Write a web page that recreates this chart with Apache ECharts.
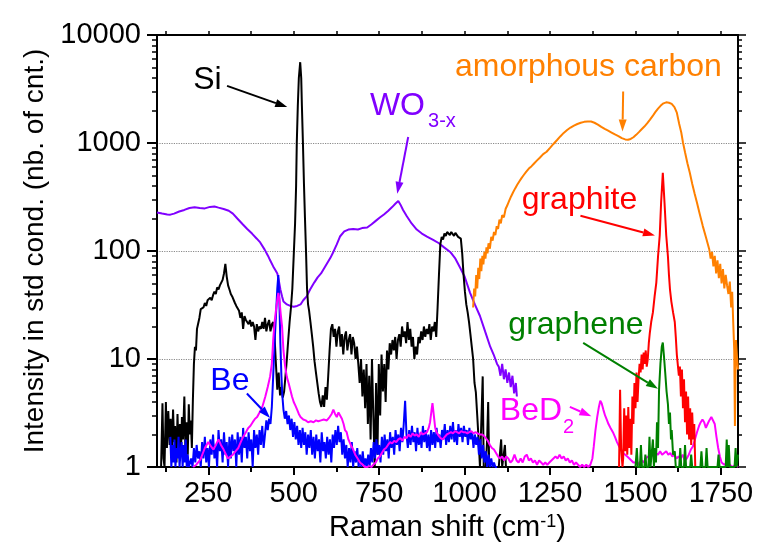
<!DOCTYPE html>
<html>
<head>
<meta charset="utf-8">
<script src="https://cdn.jsdelivr.net/npm/echarts@6/dist/echarts.min.js"></script>
<style>
html, body { margin: 0; padding: 0; background: #fff; }
#chart { width: 763px; height: 553px; }
</style>
</head>
<body>
<div id="chart"></div>
<script>
const FONT = '"Liberation Sans", Arial, sans-serif';

const BLACK = '#000000';
const PURPLE = '#8000ff';
const BLUE = '#0000ff';
const MAGENTA = '#ff00ff';
const ORANGE = '#ff8000';
const RED = '#ff0000';
const GREEN = '#008000';

// x tick positions (cm-1)
const xMajorTicks = [250, 500, 750, 1000, 1250, 1500, 1750];
const xMinorTicks = [125, 375, 625, 875, 1125, 1375, 1625];
// log minor ticks
const yMinorTicks = [2, 3, 4, 5, 6, 7, 8, 9, 20, 30, 40, 50, 60, 70, 80, 90,
  200, 300, 400, 500, 600, 700, 800, 900, 2000, 3000, 4000, 5000, 6000, 7000, 8000, 9000];

// Si (black)
const siData = [
  [112,1],[116,3.9],[119,1.2],[122,1],[126,4],[129,1.5],[133,3.3],[137,1.6],[140,2.8],[143,1.2],[147,3.4],[150,1.7],
  [153,2.4],[157,1.1],[160,3.1],[163,1.4],[167,2.5],[170,1.3],[173,2.9],[176,1.8],[180,4.5],[183,1.5],[187,2.6],[190,1.3],
  [193,3.8],[196,2.0],[199,2.7],[202,1.5],[205,4.2],[208,9],[211,13],[214,12],[217,19],[220,21],[224,24],[228,29],
  [232,28],[236,30],[240,33],[244,31],[248,35],[252,34],[256,37],[260,35],[264,39],[268,42],[272,40],[276,46],
  [280,44],[284,48],[288,46],[292,54],[296,62],[300,76],[304,58],[308,48],[312,44],[316,40],[320,38],[324,37],
  [328,33],[332,31],[336,32],[340,28],[344,24],[348,27],[352,19],[356,25],[360,23],[364,24],[368,21],[372,23],
  [376,20],[380,22],[384,20],[388,15],[392,21],[396,18],[400,20],[404,19],[408,22],[412,19],[416,24],[420,18],
  [424,21],[428,23],[432,18],[436,21],[440,22],[444,16],[448,9],[452,5.2],[456,7.5],[460,4.6],[464,5.5],[468,4.4],
  [472,5],[476,7],[480,10],[484,15],[488,22],[492,30],[496,45],[500,90],[504,180],[507,400],[509,1000],[512,2200],
  [515,4000],[519,5600],[522,4000],[524,2200],[527,1000],[530,420],[533,200],[536,100],[539,45],[542,32],[545,28],
  [549,22],[553,17],[557,13],[561,9.5],[565,7.5],[569,6],[573,4.8],[577,4.0],[581,3.6],[585,4.6],[589,3.6],[593,5.5],
  [597,4.2],[601,7],[605,12],[609,19],[613,21],[617,16],[621,19],[625,13],[629,18],[633,20],[637,13],[641,17],
  [645,11],[649,16],[653,18],[657,12],[661,15],[665,17],[669,11],[673,16],[677,14],[681,10],[685,13],[689,9],
  [693,6],[697,10],[701,4.5],[705,8],[709,3.5],[713,9],[717,2.5],[721,7],[725,1.8],[729,10],[733,3],[737,1],
  [741,6],[745,1.3],[749,9],[753,3],[757,11],[761,5],[765,9],[769,4],[773,12],[777,8],[781,14],[785,11],
  [789,15],[793,12],[797,16],[801,10],[805,15],[809,17],[813,13],[817,20],[821,16],[825,18],[829,14],[833,22],
  [837,15],[841,19],[845,13],[849,16],[853,10],[857,13],[861,11],[865,16],[869,14],[873,18],[877,15],[881,20],
  [885,16],[889,19],[893,17],[897,21],[901,15],[905,20],[909,18],[913,22],[917,16],[921,30],[925,60],[929,115],
  [933,135],[937,128],[941,145],[945,138],[949,150],[953,146],[957,140],[961,150],[965,145],[969,138],[973,147],
  [977,142],[981,135],[985,140],[989,130],[993,95],[997,60],[1001,42],[1005,32],[1009,27],[1013,22],[1017,17],
  [1021,13],[1025,10],[1029,6],[1033,4.9],[1037,3],[1041,1.8],[1045,1],[1050,1],[1053,6.9],[1056,1],[1062,1],
  [1066,1.8],[1069,4],[1072,1],[1080,1],[1090,1],[1100,1],[1104,1],[1107,1.8],[1110,1],[1114,1],[1118,1.6],[1121,1]
];

// WO3-x (purple)
const wo3Data = [
  [100,227],[115,222],[130,218],[139,217],[150,222],[165,232],[180,240],[195,250],[210,254],[225,250],[240,248],
  [255,256],[268,258],[280,252],[295,245],[310,236],[322,222],[335,200],[350,178],[364,160],[378,145],[392,130],
  [402,120],[415,103],[425,90],[431,82],[440,72],[447,66],[452,62],[457,52],[461,44],[466,38],[470,34],[480,32],
  [490,31],[500,30.5],[510,31],[520,32],[528,35],[538,38],[548,44],[560,51],[570,57],[580,62],[590,70],[600,79],
  [607,86],[616,98],[626,115],[636,137],[648,152],[660,158],[674,160],[688,158],[700,163],[715,165],[728,177],
  [740,190],[752,204],[764,218],[776,235],[788,255],[798,275],[806,290],[812,270],[820,240],[831,210],[845,180],
  [860,158],[875,145],[890,136],[908,127],[925,118],[940,108],[958,98],[972,86],[987,70],[1000,58],[1016,41],
  [1030,32],[1045,25],[1060,18],[1075,13],[1085,11],[1095,9],[1100,8.5],[1105,7],[1110,9],[1115,6.5],[1120,8],
  [1125,6],[1130,7.5],[1135,5.5],[1140,7],[1145,4.8],[1150,6],[1153,4.5]
];

// Be (blue)
const beData = [
  [139,1.9],[142,1],[145,1.6],[148,1.1],[151,1.8],[154,1],[157,1.5],[160,1.2],[163,1.9],[166,1],[169,1.4],[172,1.7],
  [175,1],[178,1.6],[181,1.1],[184,1.8],[187,1],[190,1.3],[193,1],[196,1],[200,1.2],[204,1],[208,1.5],[212,1.1],
  [216,1.6],[220,1.2],[224,1.4],[228,1],[232,1.7],[236,1.2],[240,1.9],[244,1.1],[248,1.5],[252,1],[256,1.8],[260,1.3],
  [264,2.0],[268,1.2],[272,1.6],[276,1],[280,2.2],[284,1.4],[288,1.8],[292,1.1],[296,2.1],[300,1.3],[304,1.7],[308,1],
  [312,1.9],[316,1.2],[320,2.0],[324,1.4],[328,1.8],[332,1],[336,2.1],[340,1.3],[344,1.9],[348,1.1],[352,2.3],[356,1.5],
  [360,1.9],[364,1.2],[368,2.1],[372,1.4],[376,1.8],[380,1],[384,2.2],[388,1.5],[392,2.0],[396,1.3],[400,2.2],[404,1.6],
  [408,2.4],[412,1.5],[416,2.0],[420,2.7],[424,2.2],[428,2.8],[432,2.5],[436,3.6],[440,7],[444,14],[448,25],[452,45],
  [455,60],[458,35],[461,14],[464,7],[467,4.5],[470,3.4],[474,2.8],[478,3.3],[482,2.5],[486,3.0],[490,2.2],[494,2.8],
  [498,1.9],[502,2.6],[506,1.8],[510,2.4],[514,1.6],[518,2.2],[522,1.5],[526,2.3],[530,1.6],[534,2.1],[538,1.3],[542,2.0],
  [546,1.5],[550,2.2],[554,1.3],[558,1.9],[562,1.2],[566,2.0],[570,1.4],[574,1.8],[578,1.1],[582,2.1],[586,1.4],[590,1.7],
  [594,1.2],[598,1.9],[602,1.3],[606,1.8],[610,1.1],[614,2.0],[618,1.5],[622,2.2],[626,1.6],[630,2.4],[634,1.7],[638,2.1],
  [642,1.3],[646,1.8],[650,1.2],[654,1.6],[658,1],[662,1.5],[666,1.1],[670,1.7],[674,1],[678,1.4],[682,1.1],[686,1.5],
  [690,1],[694,1.3],[698,1],[702,1.4],[706,1],[710,1.2],[714,1],[718,1.3],[722,1],[726,1.5],[730,1.1],[734,1.7],
  [738,1.2],[742,1.8],[746,1.3],[750,1.6],[754,1.1],[758,1.9],[762,1.3],[766,2.0],[770,1.4],[774,1.8],[778,1.2],[782,2.1],
  [786,1.5],[790,1.9],[794,1.3],[798,2.2],[802,1.6],[806,2.0],[810,1.4],[814,2.3],[818,1.7],[822,2.5],[826,4.1],[830,2.0],
  [834,1.5],[838,2.2],[842,1.6],[846,2.4],[850,1.7],[854,2.1],[858,1.4],[862,2.3],[866,1.6],[870,2.0],[874,1.5],[878,2.4],
  [882,1.7],[886,2.2],[890,1.5],[894,2.0],[898,1.4],[902,2.2],[906,1.6],[910,2.1],[914,1.5],[918,2.3],[922,1.7],[926,2.0],
  [930,1.5],[934,2.2],[938,1.8],[942,2.5],[946,1.6],[950,2.2],[954,1.7],[958,2.4],[962,1.8],[966,2.6],[970,1.7],[974,2.2],
  [978,1.6],[982,2.5],[986,1.9],[990,2.3],[994,1.7],[998,2.4],[1002,1.9],[1006,2.2],[1010,1.6],[1014,2.3],[1018,1.8],
  [1022,2.1],[1026,1.5],[1030,2.0],[1034,1.6],[1038,1.9],[1042,1.3],[1046,1.8],[1050,1.2],[1054,1.6],[1058,1.1],[1062,1.4],
  [1066,1],[1070,1.3],[1074,1],[1078,1.2],[1082,1],[1086,1.1],[1090,1],[1095,1]
];

// BeD2 (magenta)
const bed2Data = [
  [206,1],[215,1.05],[227,1.17],[240,1.5],[250,1.7],[258,1.55],[265,1.45],[272,1.6],[280,1.8],[287,1.6],[295,1.45],
  [302,1.3],[308,1.2],[315,1.25],[322,1.3],[330,1.4],[338,1.5],[345,1.7],[352,1.9],[360,2.1],[367,2.3],[373,2.4],
  [380,2.6],[387,2.8],[393,2.9],[400,3.2],[408,3.6],[417,4.5],[424,5.5],[431,6.9],[436,9],[440,15],[444,22],[448,28],
  [452,35],[455,41],[458,36],[462,26],[466,20],[470,12],[475,8.5],[480,6.8],[485,6],[490,5.2],[495,4.5],[500,4],
  [505,3.7],[510,3.4],[515,3.1],[520,2.9],[528,2.75],[535,2.7],[542,2.6],[550,2.65],[558,2.6],[565,2.7],[572,2.65],
  [580,2.7],[588,2.75],[597,2.7],[605,2.9],[611,3.1],[616,3.4],[621,3.1],[626,2.9],[631,3.2],[636,3.2],[641,2.8],
  [646,2.5],[650,2.2],[655,2.1],[660,1.8],[667,1.6],[674,1.45],[680,1.3],[687,1.2],[694,1.1],[702,1.05],[708,1.0],
  [715,1.0],[722,1.02],[728,1.0],[733,1.05],[740,1.1],[746,1.2],[752,1.25],[758,1.35],[764,1.45],[770,1.5],[776,1.6],
  [782,1.7],[788,1.65],[794,1.75],[800,1.7],[806,1.8],[812,1.85],[818,1.75],[824,1.9],[830,1.85],[836,2.0],[842,1.9],
  [848,2.05],[854,1.95],[860,2.0],[866,1.9],[872,2.1],[878,2.0],[884,2.05],[890,2.1],[895,2.3],[899,2.6],[903,3.3],
  [906,3.9],[910,3.0],[914,2.3],[918,2.1],[924,1.95],[930,1.85],[936,1.8],[942,1.9],[948,2.0],[954,2.05],[960,2.1],
  [966,2.05],[972,2.15],[978,2.1],[984,2.05],[990,2.15],[996,2.1],[1002,2.1],[1008,2.05],[1014,2.1],[1020,2.15],
  [1026,2.05],[1032,2.1],[1038,2.05],[1044,2.0],[1050,2.0],[1056,1.95],[1062,1.85],[1068,1.75],[1074,1.6],[1080,1.5],
  [1086,1.45],[1092,1.35],[1098,1.25],[1104,1.2],[1110,1.25],[1116,1.15],[1122,1.25],[1128,1.2],[1134,1.1],[1140,1.15],
  [1146,1.3],[1152,1.15],[1158,1.1],[1164,1.2],[1170,1.1],[1176,1.25],[1182,1.3],[1188,1.15],[1194,1.2],[1200,1.1],
  [1206,1.15],[1212,1.05],[1218,1.15],[1224,1.1],[1230,1.05],[1236,1.1],[1242,1.05],[1248,1.1],[1254,1.15],[1260,1.2],
  [1266,1.25],[1272,1.2],[1278,1.3],[1284,1.2],[1290,1.25],[1296,1.15],[1302,1.2],[1308,1.1],[1314,1.15],[1320,1.05],
  [1326,1.1],[1332,1.05],[1338,1.0],[1344,1.05],[1350,1.0],[1356,1.05],[1362,1.0],[1368,1.05],[1374,1.2],[1378,1.55],
  [1383,2.2],[1388,2.9],[1393,3.6],[1397,4.1],[1401,3.9],[1406,3.4],[1411,3.0],[1416,2.75],[1421,2.5],[1427,2.3],
  [1434,2.1],[1440,1.9],[1446,1.7],[1452,1.55],[1458,1.45],[1464,1.35],[1470,1.3],[1476,1.25],[1482,1.2],[1488,1.15],
  [1494,1.1],[1500,1.1],[1506,1.05],[1512,1.1],[1518,1.15],[1524,1.1],[1530,1.2],[1536,1.25],[1542,1.2],[1548,1.3],
  [1554,1.25],[1560,1.35],[1566,1.3],[1572,1.4],[1578,1.3],[1584,1.35],[1590,1.4],[1596,1.3],[1602,1.35],[1608,1.25],
  [1614,1.3],[1620,1.2],[1626,1.25],[1632,1.2],[1638,1.3],[1644,1.15],[1650,1.2],[1656,1.3],[1662,1.45],[1668,1.55],
  [1674,1.8],[1680,2.1],[1686,2.4],[1691,2.6],[1696,2.75],[1701,2.6],[1706,2.3],[1711,2.5],[1716,2.7],[1722,2.9],
  [1727,2.9],[1732,2.5],[1737,1.9],[1742,1.5],[1747,1.25],[1752,1.1],[1760,1.05],[1768,1.1],[1776,1.05],[1784,1.0],
  [1792,1.05],[1800,1.0]
];

// amorphous carbon (orange)
const carbonData = [
  [1025,30],[1028,45],[1031,38],[1034,60],[1037,45],[1040,70],[1043,55],[1046,85],[1049,65],[1052,90],[1055,75],
  [1058,98],[1061,85],[1064,108],[1067,95],[1070,118],[1074,105],[1078,135],[1082,125],[1086,150],[1090,140],
  [1094,170],[1098,160],[1102,195],[1106,180],[1110,215],[1115,205],[1120,245],[1125,265],[1130,290],[1136,320],
  [1142,350],[1148,380],[1154,410],[1160,440],[1166,470],[1172,500],[1180,540],[1188,580],[1196,610],[1204,650],
  [1212,690],[1220,730],[1230,790],[1240,830],[1250,900],[1260,980],[1270,1060],[1280,1150],[1290,1240],[1300,1320],
  [1310,1390],[1320,1450],[1330,1500],[1340,1540],[1350,1570],[1360,1585],[1370,1580],[1380,1540],[1390,1480],
  [1400,1410],[1410,1350],[1420,1300],[1430,1250],[1440,1200],[1450,1160],[1460,1110],[1470,1080],[1478,1070],
  [1486,1090],[1494,1130],[1502,1190],[1510,1260],[1518,1340],[1526,1420],[1534,1520],[1542,1640],[1550,1770],
  [1558,1930],[1566,2080],[1574,2220],[1582,2330],[1590,2380],[1598,2360],[1606,2300],[1614,2150],[1621,1910],
  [1628,1500],[1634,1250],[1639,1010],[1645,820],[1652,650],[1659,530],[1666,420],[1673,340],[1680,280],[1688,220],
  [1697,170],[1706,135],[1712,115],[1716,103],[1720,85],[1724,98],[1728,72],[1732,90],[1736,62],[1740,82],[1744,56],
  [1748,76],[1752,50],[1756,68],[1760,45],[1764,60],[1768,48],[1772,40],[1776,52],[1780,30],[1783,42],[1786,22],
  [1789,12],[1791,2.4],[1794,15],[1797,10.5],[1800,8]
];

// graphite (red)
const graphiteData = [
  [1452,1],[1455,5.2],[1458,1.5],[1462,1],[1464,1.2],[1467,3.5],[1470,1.4],[1473,3],[1476,1.3],[1479,3.6],[1482,1.5],
  [1485,2.8],[1488,1.3],[1491,4.5],[1494,2.5],[1497,6],[1500,3.5],[1503,7.5],[1506,4],[1509,6.5],[1512,9],[1515,7.5],
  [1518,11],[1521,8],[1524,11.5],[1527,9],[1530,12],[1533,8.5],[1536,10],[1539,14],[1542,17.5],[1546,22],[1551,27],
  [1556,38],[1561,51],[1566,89],[1571,140],[1575,280],[1580,530],[1585,280],[1590,140],[1595,89],[1598,60],[1601,44],
  [1605,34],[1610,27],[1615,22],[1618,16],[1621,11],[1624,10.6],[1627,7],[1630,8.5],[1633,4.5],[1636,8],[1639,3.5],
  [1642,6.5],[1645,2.6],[1648,5],[1651,2],[1654,4.5],[1657,1.8],[1660,3.5],[1663,1.6],[1666,3.2],[1669,1.8],
  [1672,2.5],[1675,1]
];

// graphene (green)
const grapheneData = [
  [1500,1],[1504,1.5],[1507,1],[1513,1],[1516,1.6],[1519,1],[1526,1],[1529,1.3],[1532,1],[1538,1],[1541,1.9],
  [1544,1],[1548,1],[1551,1.8],[1554,1],[1557,1.5],[1560,1.1],[1563,2.6],[1566,1.5],[1569,5.2],[1573,9],[1577,13],
  [1580,14.2],[1583,11],[1587,7.5],[1591,5],[1595,3.8],[1598,2.5],[1601,3.2],[1604,1.8],[1606,2.2],[1610,1.3],
  [1615,1.4],[1618,1],[1628,1],[1631,1.5],[1634,1],[1642,1],[1645,1.6],[1648,1],[1660,1],[1663,1.3],[1666,1],
  [1690,1],[1693,1.4],[1696,1],[1705,1],[1708,1.5],[1711,1],[1740,1],[1743,1.3],[1746,1],[1764,1],[1767,1.8],
  [1770,1],[1773,1.6],[1776,1],[1790,1],[1793,1.5],[1796,1],[1800,1.3]
];

// annotations, positioned in data coordinates
const labels = [
  { text: 'Si', color: BLACK, at: [206, 3845], size: 32 },
  { text: 'WO', color: PURPLE, at: [723, 2209], size: 32 },
  { text: '3-x', color: PURPLE, at: [893, 1571], size: 20 },
  { text: 'amorphous carbon', color: ORANGE, at: [972, 5070], size: 32 },
  { text: 'graphite', color: RED, at: [1167, 298], size: 32 },
  { text: 'graphene', color: GREEN, at: [1128, 20.4], size: 32 },
  { text: 'BeD', color: MAGENTA, at: [1103, 3.26], size: 32 },
  { text: '2', color: MAGENTA, at: [1288, 2.32], size: 20 },
  { text: 'Be', color: BLUE, at: [256, 6.18], size: 32 }
];

const arrows = [
  { color: BLACK, from: [305, 3380], to: [481, 2150] },
  { color: PURPLE, from: [835, 1135], to: [803, 339] },
  { color: ORANGE, from: [1464, 2995], to: [1462, 1277] },
  { color: RED, from: [1339, 212], to: [1557, 139] },
  { color: GREEN, from: [1347, 14.1], to: [1566, 5.29] },
  { color: MAGENTA, from: [1308, 3.6], to: [1371, 2.95] },
  { color: BLUE, from: [363, 4.79], to: [431, 2.85] }
];

function spectrum(name, data, colour) {
  return {
    name: name,
    type: 'line',
    data: data,
    symbol: 'none',
    clip: true,
    lineStyle: { color: colour, width: 2 },
    itemStyle: { color: colour }
  };
}

const axisLineStyle = { color: '#000', width: 2 };

const chart = echarts.init(document.getElementById('chart'));

chart.setOption({
  animation: false,
  backgroundColor: '#fff',
  textStyle: { fontFamily: FONT },
  grid: { left: 157, right: 25, top: 35, bottom: 86, containLabel: false },
  xAxis: [
    {
      type: 'value', position: 'bottom', min: 100, max: 1800,
      axisLine: { show: true, lineStyle: axisLineStyle },
      axisTick: { show: true, customValues: xMajorTicks, length: 8, lineStyle: { width: 2, color: '#000' } },
      axisLabel: {
        customValues: xMajorTicks, fontSize: 29, color: '#000', fontFamily: FONT, margin: 12,
        formatter: v => String(Math.round(v))
      },
      splitLine: { show: false },
      name: 'Raman shift (cm{sup|-1})',
      nameLocation: 'middle',
      nameGap: 46,
      nameTextStyle: {
        fontSize: 29, color: '#000', fontFamily: FONT,
        rich: { sup: { fontSize: 18, color: '#000', fontFamily: FONT, verticalAlign: 'top', padding: [0, 0, 12, 0] } }
      }
    },
    {
      type: 'value', position: 'bottom', min: 100, max: 1800,
      axisLine: { show: false },
      axisTick: { show: true, customValues: xMinorTicks, length: 5, lineStyle: { width: 2, color: '#000' } },
      axisLabel: { show: false },
      splitLine: { show: false }
    },
    {
      type: 'value', position: 'top', min: 100, max: 1800,
      axisLine: { show: true, lineStyle: axisLineStyle },
      axisTick: { show: true, customValues: xMajorTicks.concat(xMinorTicks), length: 4, lineStyle: { width: 1.5, color: '#000' } },
      axisLabel: { show: false },
      splitLine: { show: false }
    }
  ],
  yAxis: [
    {
      type: 'log', logBase: 10, position: 'left', min: 1, max: 10000, interval: 1,
      axisLine: { show: true, lineStyle: axisLineStyle },
      axisTick: { show: true, length: 10, lineStyle: { width: 2, color: '#000' } },
      axisLabel: { fontSize: 29, color: '#000', fontFamily: FONT, margin: 16, formatter: v => String(Math.round(v)) },
      splitLine: { show: true, lineStyle: { type: 'dotted', color: '#8a8a8a', width: 1.2 } },
      name: 'Intensity in std cond. (nb. of cnt.)',
      nameLocation: 'middle',
      nameGap: 108,
      nameTextStyle: { fontSize: 28, color: '#000', fontFamily: FONT }
    },
    {
      type: 'log', logBase: 10, position: 'left', min: 1, max: 10000,
      axisLine: { show: false },
      axisTick: { show: true, customValues: yMinorTicks, length: 5, lineStyle: { width: 1.5, color: '#000' } },
      axisLabel: { show: false },
      splitLine: { show: false }
    },
    {
      type: 'log', logBase: 10, position: 'right', min: 1, max: 10000, interval: 1,
      axisLine: { show: true, lineStyle: axisLineStyle },
      axisTick: { show: true, length: 8, lineStyle: { width: 1.5, color: '#000' } },
      axisLabel: { show: false },
      splitLine: { show: false }
    },
    {
      type: 'log', logBase: 10, position: 'right', min: 1, max: 10000,
      axisLine: { show: false },
      axisTick: { show: true, customValues: yMinorTicks, length: 4, lineStyle: { width: 1.5, color: '#000' } },
      axisLabel: { show: false },
      splitLine: { show: false }
    }
  ],
  series: [
    spectrum('WO3-x', wo3Data, PURPLE),
    spectrum('Si', siData, BLACK),
    spectrum('Be', beData, BLUE),
    spectrum('BeD2', bed2Data, MAGENTA),
    spectrum('amorphous carbon', carbonData, ORANGE),
    spectrum('graphite', graphiteData, RED),
    spectrum('graphene', grapheneData, GREEN)
  ]
});

// annotations: labels and arrows, placed through the chart's own scales
function toPx(p) {
  return chart.convertToPixel({ xAxisIndex: 0, yAxisIndex: 0 }, p);
}

const graphics = [];

labels.forEach(l => {
  const p = toPx(l.at);
  graphics.push({
    type: 'text',
    x: p[0], y: p[1],
    z: 100,
    style: {
      text: l.text, fill: l.color, fontSize: l.size, fontFamily: FONT,
      textAlign: 'left', textVerticalAlign: 'middle'
    }
  });
});

arrows.forEach(a => {
  const p1 = toPx(a.from);
  const p2 = toPx(a.to);
  const dx = p2[0] - p1[0];
  const dy = p2[1] - p1[1];
  const len = Math.sqrt(dx * dx + dy * dy);
  const ux = dx / len, uy = dy / len;
  const head = 12, half = 4;
  const bx = p2[0] - ux * head, by = p2[1] - uy * head;
  graphics.push({
    type: 'line', z: 100,
    shape: { x1: p1[0], y1: p1[1], x2: bx, y2: by },
    style: { stroke: a.color, lineWidth: 2 }
  });
  graphics.push({
    type: 'polygon', z: 100,
    shape: { points: [[p2[0], p2[1]], [bx - uy * half, by + ux * half], [bx + uy * half, by - ux * half]] },
    style: { fill: a.color }
  });
});

chart.setOption({ graphic: graphics });
</script>
</body>
</html>
